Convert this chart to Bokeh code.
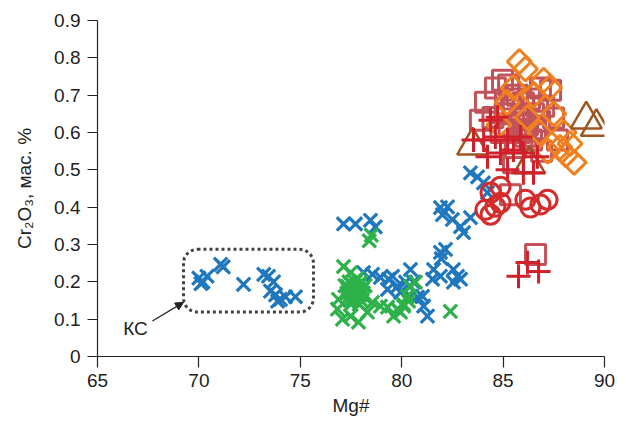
from bokeh.plotting import figure
from bokeh.models import Range1d, FixedTicker, Label, Arrow, NormalHead, BoxAnnotation
from bokeh.embed import file_html
from bokeh.resources import INLINE

# ---- data (Mg#, Cr2O3 wt.%) ----
blue_x = [70.0, 70.2, 70.4, 70.1, 71.07, 71.2, 72.2, 73.2, 73.43, 73.68, 73.53, 73.78, 74.02, 74.27, 74.76, 73.88,
          77.13, 77.72, 78.46, 78.7,
          83.39, 83.74, 84.03, 84.23, 81.91, 82.26, 82.01, 82.5, 82.9, 83.39, 83.05, 82.16, 81.91, 81.95,
          82.55, 82.75, 82.9, 82.55, 81.91, 81.57, 81.52, 80.43, 80.19, 79.94, 80.43, 80.78, 81.08, 81.27,
          79.79, 79.55, 78.12, 78.56, 78.95, 79.35, 79.3, 79.79, 80.58, 81.03]
blue_y = [0.21, 0.2, 0.215, 0.195, 0.247, 0.24, 0.193, 0.22, 0.215, 0.2, 0.175, 0.165, 0.153, 0.16, 0.16, 0.148,
          0.355, 0.355, 0.365, 0.347,
          0.492, 0.481, 0.465, 0.439, 0.399, 0.401, 0.38, 0.367, 0.348, 0.372, 0.332, 0.287, 0.279, 0.262,
          0.233, 0.215, 0.207, 0.199, 0.215, 0.233, 0.207, 0.233, 0.199, 0.172, 0.161, 0.159, 0.135, 0.108,
          0.188, 0.215, 0.225, 0.22, 0.212, 0.207, 0.18, 0.127, 0.199, 0.161]

green_x = [78.4, 78.5, 77.13, 77.48, 77.33, 76.88, 76.83, 77.08, 77.48, 77.87, 78.31, 78.56, 78.95, 79.3,
           79.6, 79.94, 80.09, 80.34, 80.43, 80.68, 80.29, 80.09, 79.79, 82.4,
           77.5, 77.7, 77.6, 77.8, 77.4, 77.9, 78.0, 77.6, 77.3, 77.7, 78.1, 77.5, 77.9, 78.2, 77.2, 77.8, 77.4, 78.0,
           77.55, 77.65, 77.75, 77.45, 77.85, 77.95, 77.6, 77.7, 77.5, 77.8, 77.35, 78.05, 77.65, 77.9, 77.45, 78.15]
green_y = [0.31, 0.325, 0.241, 0.225, 0.188, 0.153, 0.127, 0.1, 0.108, 0.092, 0.119, 0.145, 0.135, 0.132,
           0.108, 0.119, 0.14, 0.148, 0.188, 0.199, 0.161, 0.135, 0.127, 0.121,
           0.18, 0.17, 0.19, 0.16, 0.16, 0.18, 0.2, 0.15, 0.17, 0.2, 0.17, 0.14, 0.14, 0.19, 0.19, 0.21, 0.2, 0.15,
           0.175, 0.165, 0.185, 0.17, 0.175, 0.165, 0.155, 0.18, 0.195, 0.19, 0.18, 0.18, 0.16, 0.19, 0.15, 0.16]

square_x = [84.97, 84.62, 85.27, 87.34, 86.84, 84.13, 83.88, 87.49, 87.68, 86.0, 85.51, 85.36, 86.6,
            85.5, 86.0, 86.5, 86.2, 85.8, 86.8, 85.3, 87.0, 86.4, 85.6, 84.9, 86.9,
            85.7, 86.3, 86.6, 85.1, 85.9, 86.1, 86.7, 85.4, 84.5]
square_y = [0.74, 0.719, 0.727, 0.713, 0.719, 0.681, 0.633, 0.639, 0.58, 0.607, 0.519, 0.433, 0.273,
            0.66, 0.68, 0.65, 0.62, 0.6, 0.63, 0.62, 0.67, 0.58, 0.56, 0.6, 0.55,
            0.7, 0.69, 0.61, 0.65, 0.64, 0.59, 0.67, 0.69, 0.64]

diamond_x = [85.8, 86.1, 87.0, 87.3, 86.5, 85.5, 87.5, 88.0, 88.3, 88.1, 88.5, 87.8, 84.8, 86.2, 86.8, 85.2, 87.2]
diamond_y = [0.79, 0.77, 0.74, 0.72, 0.7, 0.72, 0.65, 0.6, 0.57, 0.54, 0.52, 0.56, 0.62, 0.64, 0.6, 0.68, 0.55]

triangle_x = [89.1, 89.6, 83.5, 86.3]
triangle_y = [0.635, 0.615, 0.565, 0.515]

plus_x = [84.38, 84.73, 84.04, 83.54, 84.62, 85.22, 85.86, 85.51, 86.0, 86.69, 84.87, 84.23, 86.0, 86.5, 85.22,
          85.76, 86.2, 86.75]
plus_y = [0.633, 0.641, 0.58, 0.58, 0.588, 0.58, 0.588, 0.553, 0.545, 0.535, 0.545, 0.535, 0.492, 0.492, 0.5,
          0.215, 0.252, 0.228]

circle_x = [84.38, 84.62, 84.13, 84.87, 86.1, 87.19, 86.84, 86.35, 84.38, 84.87]
circle_y = [0.38, 0.401, 0.393, 0.412, 0.42, 0.42, 0.407, 0.399, 0.439, 0.455]

# KC group outline (Mg#, Cr2O3)
kc_left, kc_right, kc_bottom, kc_top = 69.24, 75.65, 0.119, 0.287
kc_label = "КС"
kc_label_x, kc_label_y = 66.87, 0.076
arrow_x0, arrow_y0, arrow_x1, arrow_y1 = 67.71, 0.095, 69.24, 0.145

x_ticks = [65, 70, 75, 80, 85, 90]
y_ticks = [0, 0.1, 0.2, 0.3, 0.4, 0.5, 0.6, 0.7, 0.8, 0.9]

FONT = "Liberation Sans"
FS = "19px"
TXT = "#222222"

p = figure(width=626, height=421, output_backend="svg", toolbar_location=None,
           x_range=Range1d(65, 90), y_range=Range1d(0, 0.9),
           min_border_left=97, min_border_right=22, min_border_top=20, min_border_bottom=65)
p.outline_line_color = None
p.grid.visible = False
p.background_fill_color = "white"

for ax in (p.xaxis[0], p.yaxis[0]):
    ax.axis_line_color = "#222222"
    ax.axis_line_width = 1.2
    ax.major_tick_line_color = "#222222"
    ax.major_tick_line_width = 1.2
    ax.major_tick_in = 0
    ax.minor_tick_line_color = None
    ax.major_label_text_font = FONT
    ax.major_label_text_font_size = FS
    ax.major_label_text_color = TXT
    ax.axis_label_text_font = FONT
    ax.axis_label_text_font_size = FS
    ax.axis_label_text_font_style = "normal"
    ax.axis_label_text_color = TXT

p.xaxis.ticker = FixedTicker(ticks=x_ticks)
p.yaxis.ticker = FixedTicker(ticks=y_ticks)
p.yaxis.major_label_overrides = {0: "0"}
p.xaxis.major_tick_out = 11
p.yaxis.major_tick_out = 10
p.xaxis.major_label_standoff = 6
p.yaxis.major_label_standoff = 7
p.xaxis.axis_label = "Mg#"
p.yaxis.axis_label = "Cr\u2082O\u2083, мас. %"
p.xaxis.axis_label_standoff = 5
p.yaxis.axis_label_standoff = 16

LW = 3.2
p.scatter(blue_x, blue_y, marker="x", size=19, line_color="#1f77bd", line_width=LW)
p.scatter(green_x, green_y, marker="x", size=19, line_color="#2db24a", line_width=LW)
p.scatter(square_x, square_y, marker="square", size=20, line_color="#c1535a", fill_color=None, line_width=3)
p.scatter(diamond_x, diamond_y, marker="square", angle=0.785398, size=17, line_color="#f0801f",
          fill_color=None, line_width=3)
p.scatter(triangle_x, triangle_y, marker="triangle", size=31, line_color="#9e5522", fill_color=None, line_width=2.5)
p.scatter(plus_x, plus_y, marker="cross", size=24, line_color="#d0202a", line_width=3)
p.scatter(circle_x, circle_y, marker="circle", size=19, line_color="#d42b2b", fill_color=None, line_width=3)

p.add_layout(BoxAnnotation(left=kc_left, right=kc_right, bottom=kc_bottom, top=kc_top,
                           fill_alpha=0, line_color="#444444", line_alpha=1.0, line_width=3, line_dash="3 3",
                           border_radius=14))
p.add_layout(Arrow(end=NormalHead(size=8, fill_color="#222222", line_color="#222222"),
                   x_start=arrow_x0, y_start=arrow_y0, x_end=arrow_x1, y_end=arrow_y1,
                   line_color="#222222", line_width=1.2))
p.add_layout(Label(x=kc_label_x, y=kc_label_y, text=kc_label, text_align="center", text_baseline="middle",
                   text_font=FONT, text_font_size=FS, text_color=TXT))

open("out.html", "w").write(file_html(p, INLINE))
